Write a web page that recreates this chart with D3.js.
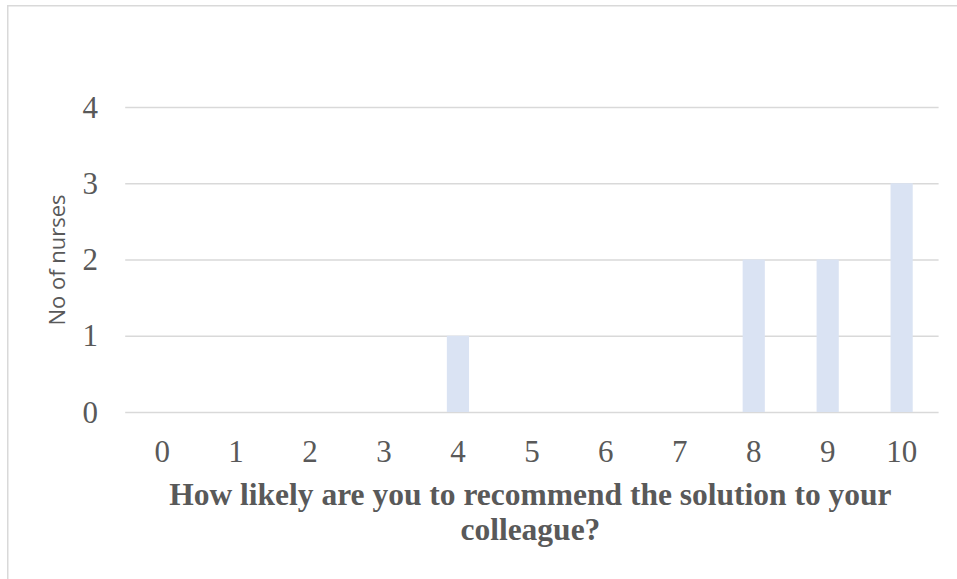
<!DOCTYPE html>
<html>
<head>
<meta charset="utf-8">
<script src="https://cdn.jsdelivr.net/npm/d3@7"></script>
<style>
  html, body { margin: 0; padding: 0; background: #ffffff; }
  svg { display: block; }
</style>
</head>
<body>
<svg id="chart" width="957" height="579"></svg>
<script>
// Survey answers: score given (0-10) and number of nurses choosing it
const scores = ["0", "1", "2", "3", "4", "5", "6", "7", "8", "9", "10"];
const nurses = [0, 0, 0, 0, 1, 0, 0, 0, 2, 2, 3];
const yTicks = [0, 1, 2, 3, 4];
const xTitleLines = ["How likely are you to recommend the solution to your", "colleague?"];
const yTitle = "No of nurses";

const plot = { left: 125.2, right: 938.6, top: 107, bottom: 412 };
const serif = "'Liberation Serif', 'Times New Roman', serif";
const textGrey = "#595959";

const svg = d3.select("#chart");

// outer chart frame
svg.append("rect")
  .attr("x", 7.75).attr("y", 5.75)
  .attr("width", 1200).attr("height", 1200)
  .attr("fill", "none")
  .attr("stroke", "#d9d9d9")
  .attr("stroke-width", 1.5);

const x = d3.scaleBand()
  .domain(scores)
  .range([plot.left, plot.right])
  .paddingInner(0.7)
  .paddingOuter(0.35);

const y = d3.scaleLinear()
  .domain([0, 4])
  .range([plot.bottom, plot.top]);

// horizontal gridlines (no axis line, no ticks)
const yAxis = d3.axisLeft(y)
  .tickValues(yTicks)
  .tickSize(-(plot.right - plot.left))
  .tickFormat("");
const gGrid = svg.append("g")
  .attr("transform", `translate(${plot.left},0)`)
  .call(yAxis);
gGrid.select(".domain").remove();
gGrid.selectAll(".tick line")
  .attr("stroke", "#d9d9d9")
  .attr("stroke-width", 1.5);

// y tick labels
svg.append("g")
  .selectAll("text")
  .data(yTicks)
  .join("text")
  .attr("x", 98)
  .attr("y", d => y(d) + 10.5)
  .attr("text-anchor", "end")
  .attr("font-family", serif)
  .attr("font-size", 31)
  .attr("fill", textGrey)
  .text(d => d);

// bars
svg.append("g")
  .selectAll("rect")
  .data(scores.map((s, i) => ({ s, v: nurses[i] })).filter(d => d.v > 0))
  .join("rect")
  .attr("x", d => x(d.s))
  .attr("y", d => y(d.v))
  .attr("width", x.bandwidth())
  .attr("height", d => y(0) - y(d.v))
  .attr("fill", "#dae3f3");

// x tick labels
const xAxis = d3.axisBottom(x).tickSize(0).tickPadding(0);
const gx = svg.append("g")
  .attr("transform", `translate(0,${plot.bottom})`)
  .call(xAxis);
gx.select(".domain").remove();
gx.selectAll(".tick text")
  .attr("y", 50)
  .attr("dy", 0)
  .attr("font-family", serif)
  .attr("font-size", 31)
  .attr("fill", textGrey);

// x axis title (two lines, bold)
const midX = (plot.left + plot.right) / 2 - 1.5;
svg.append("text")
  .attr("text-anchor", "middle")
  .attr("font-family", serif)
  .attr("font-weight", "bold")
  .attr("font-size", 31.5)
  .attr("fill", textGrey)
  .selectAll("tspan")
  .data(xTitleLines)
  .join("tspan")
  .attr("x", midX)
  .attr("y", (d, i) => 505 + i * 35)
  .text(d => d);

// y axis title
svg.append("text")
  .attr("transform", "translate(65,260) rotate(-90)")
  .attr("text-anchor", "middle")
  .attr("font-family", "'Open Sans', sans-serif")
  .attr("font-size", 22)
  .attr("fill", textGrey)
  .text(yTitle);
</script>
</body>
</html>
